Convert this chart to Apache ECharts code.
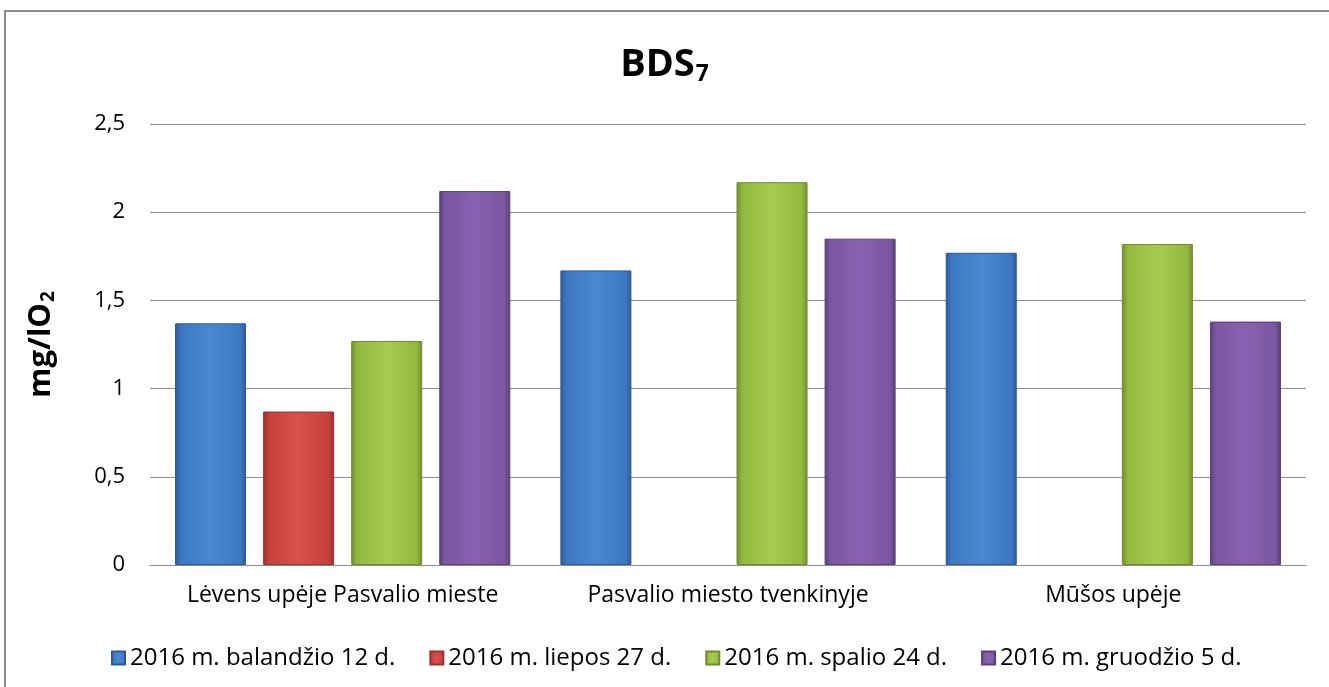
<!DOCTYPE html>
<html>
<head>
<meta charset="utf-8">
<script src="https://cdn.jsdelivr.net/npm/echarts@6/dist/echarts.min.js"></script>
<style>
  html, body { margin: 0; padding: 0; background: #fff; overflow: hidden; }
  #frame { position: absolute; left: 4px; top: 10px; width: 1400px; height: 800px;
           border-top: 2px solid #8c8c8c; border-left: 2px solid #8c8c8c; }
  #chart { position: absolute; left: 0; top: 0; width: 1329px; height: 687px; }
</style>
</head>
<body>
<div id="frame"></div>
<div id="chart"></div>
<script>
var categories = ['Lėvens upėje Pasvalio mieste', 'Pasvalio miesto tvenkinyje', 'Mūšos upėje'];
var seriesNames = ['2016 m. balandžio 12 d.', '2016 m. liepos 27 d.', '2016 m. spalio 24 d.', '2016 m. gruodžio 5 d.'];
var april = [1.37, 1.67, 1.77];
var july = [0.87, null, null];
var october = [1.27, 2.17, 1.82];
var december = [2.12, 1.85, 1.38];
var yTicks = [0, 0.5, 1, 1.5, 2, 2.5];

var chartDom = document.getElementById('chart');
var myChart = echarts.init(chartDom);

function bevel(light, mid, dark) {
    return new echarts.graphic.LinearGradient(0, 0, 1, 0, [
        { offset: 0, color: dark },
        { offset: 0.08, color: mid },
        { offset: 0.5, color: light },
        { offset: 0.92, color: mid },
        { offset: 1, color: dark }
    ]);
}

var palette = [
    ['#4a88d4', '#3d77c1', '#2c5a96'],
    ['#d9504c', '#c8403d', '#983230'],
    ['#a6cc4f', '#93b83f', '#6f8c2e'],
    ['#8862b0', '#7a57a0', '#5a3f7a']
];
var legendColors = ['#3d77c1', '#c8403d', '#93b83f', '#7a57a0'];

function makeSeries(idx, data) {
    var c = palette[idx];
    return {
        name: seriesNames[idx],
        type: 'bar',
        data: data,
        barGap: '24%',
        barCategoryGap: '13%',
        itemStyle: {
            color: bevel(c[0], c[1], c[2]),
            borderColor: c[2],
            borderWidth: 1
        }
    };
}

var font = 'Open Sans';

var option = {
    animation: false,
    color: legendColors,
    title: {
        text: '{b|BDS}{s|7}',
        left: 'center',
        top: 40,
        textStyle: {
            rich: {
                b: { fontFamily: font, fontWeight: 'bold', fontSize: 38, color: '#000' },
                s: { fontFamily: font, fontWeight: 'bold', fontSize: 23, color: '#000', padding: [18, 0, 0, 1] }
            }
        }
    },
    legend: {
        bottom: 12,
        left: 106,
        itemWidth: 13,
        itemHeight: 13,
        itemGap: 34,
        icon: 'rect',
        textStyle: { fontFamily: font, fontSize: 24, color: '#000' },
        data: seriesNames
    },
    grid: { left: 150, right: 23, top: 124, bottom: 122, containLabel: false },
    xAxis: {
        type: 'category',
        data: categories,
        axisTick: { show: false },
        axisLine: { lineStyle: { color: '#8c8c8c', width: 1 } },
        axisLabel: { fontFamily: font, fontSize: 23, color: '#000', margin: 19, interval: 0, hideOverlap: false }
    },
    yAxis: {
        type: 'value',
        min: yTicks[0],
        max: yTicks[yTicks.length - 1],
        interval: 0.5,
        name: '{m|mg/lO}{s|2}',
        nameLocation: 'middle',
        nameRotate: 90,
        nameGap: 92,
        nameTextStyle: {
            rich: {
                m: { fontFamily: font, fontWeight: 'bold', fontSize: 31, color: '#000' },
                s: { fontFamily: font, fontWeight: 'bold', fontSize: 19, color: '#000', padding: [15, 0, 0, 1] }
            }
        },
        axisLine: { show: false },
        axisTick: { show: false },
        splitLine: { lineStyle: { color: '#8c8c8c', width: 1 } },
        axisLabel: {
            fontFamily: font,
            fontSize: 22,
            color: '#000',
            margin: 25,
            formatter: function (v) { return String(v).replace('.', ','); }
        }
    },
    series: [
        makeSeries(0, april),
        makeSeries(1, july),
        makeSeries(2, october),
        makeSeries(3, december)
    ]
};

myChart.setOption(option);
</script>
</body>
</html>
